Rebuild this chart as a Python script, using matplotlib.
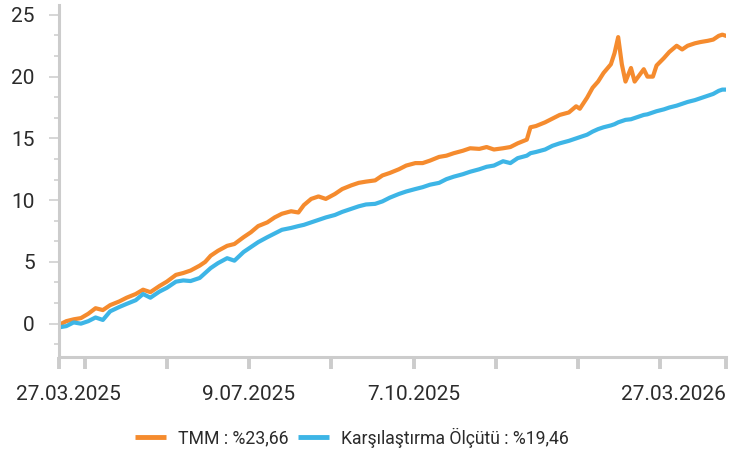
import matplotlib
matplotlib.use("Agg")
import matplotlib.pyplot as plt
import matplotlib.transforms as mtransforms
import pandas as pd

plt.rcParams['font.family'] = ['Roboto', 'DejaVu Sans']

dates = [
    "2025-03-27", "2025-03-31", "2025-04-04", "2025-04-08", "2025-04-12", "2025-04-16",
    "2025-04-20", "2025-04-24", "2025-04-29", "2025-05-03", "2025-05-08", "2025-05-12",
    "2025-05-16", "2025-05-21", "2025-05-25", "2025-05-30", "2025-06-03", "2025-06-07",
    "2025-06-12", "2025-06-15", "2025-06-18", "2025-06-22", "2025-06-27", "2025-07-01",
    "2025-07-06", "2025-07-10", "2025-07-14", "2025-07-19", "2025-07-23", "2025-07-27",
    "2025-08-01", "2025-08-05", "2025-08-08", "2025-08-12", "2025-08-16", "2025-08-20",
    "2025-08-25", "2025-08-29", "2025-09-03", "2025-09-07", "2025-09-11", "2025-09-16",
    "2025-09-20", "2025-09-24", "2025-09-29", "2025-10-03", "2025-10-08", "2025-10-12",
    "2025-10-16", "2025-10-21", "2025-10-25", "2025-10-29", "2025-11-03", "2025-11-07",
    "2025-11-12", "2025-11-16", "2025-11-20", "2025-11-25", "2025-11-29", "2025-12-03",
    "2025-12-08", "2025-12-10", "2025-12-13", "2025-12-18", "2025-12-22", "2025-12-26",
    "2025-12-31", "2026-01-04", "2026-01-06", "2026-01-10", "2026-01-13", "2026-01-16",
    "2026-01-19", "2026-01-23", "2026-01-25", "2026-01-27", "2026-01-29", "2026-01-31",
    "2026-02-03", "2026-02-05", "2026-02-07", "2026-02-10", "2026-02-12", "2026-02-15",
    "2026-02-17", "2026-02-21", "2026-02-24", "2026-02-28", "2026-03-03", "2026-03-06",
    "2026-03-10", "2026-03-13", "2026-03-17", "2026-03-20", "2026-03-23", "2026-03-25",
    "2026-03-27",
]

tmm = [
    -0.1, 0.2, 0.35, 0.45, 0.8, 1.25, 1.1, 1.5, 1.8, 2.1, 2.4, 2.75,
    2.55, 3.05, 3.4, 3.95, 4.1, 4.3, 4.7, 5.0, 5.5, 5.9, 6.3, 6.45,
    7.0, 7.4, 7.9, 8.2, 8.6, 8.9, 9.1, 9.0, 9.6, 10.1, 10.3, 10.1,
    10.5, 10.9, 11.2, 11.4, 11.5, 11.6, 12.0, 12.2, 12.5, 12.8, 13.0, 13.0,
    13.2, 13.5, 13.6, 13.8, 14.0, 14.2, 14.15, 14.3, 14.1, 14.2, 14.3, 14.6,
    14.9, 15.9, 16.0, 16.3, 16.6, 16.9, 17.1, 17.6, 17.4, 18.3, 19.1, 19.6,
    20.3, 21.0, 21.9, 23.2, 21.0, 19.6, 20.7, 19.6, 20.0, 20.6, 20.0, 20.0,
    20.9, 21.5, 22.0, 22.5, 22.2, 22.5, 22.7, 22.8, 22.9, 23.0, 23.3, 23.4,
    23.3,
]

benchmark = [
    -0.3, -0.2, 0.1, 0.0, 0.2, 0.5, 0.3, 1.0, 1.35, 1.6, 1.9, 2.4,
    2.1, 2.6, 2.9, 3.4, 3.5, 3.45, 3.7, 4.1, 4.5, 4.9, 5.3, 5.1,
    5.8, 6.2, 6.6, 7.0, 7.3, 7.6, 7.75, 7.9, 8.0, 8.2, 8.4, 8.6,
    8.8, 9.05, 9.3, 9.5, 9.65, 9.7, 9.9, 10.2, 10.5, 10.7, 10.9, 11.05,
    11.25, 11.4, 11.7, 11.9, 12.1, 12.3, 12.5, 12.7, 12.8, 13.15, 13.0, 13.4,
    13.6, 13.8, 13.9, 14.1, 14.4, 14.6, 14.8, 15.0, 15.1, 15.3, 15.55, 15.75,
    15.9, 16.05, 16.15, 16.3, 16.4, 16.5, 16.55, 16.65, 16.75, 16.9, 16.95, 17.1,
    17.2, 17.35, 17.5, 17.65, 17.8, 17.95, 18.1, 18.25, 18.45, 18.6, 18.85, 18.95,
    18.95,
]

tick_dates = ["2025-03-27", "2025-04-10", "2025-05-25", "2025-07-09", "2025-08-23",
              "2025-10-07", "2025-11-21", "2026-01-05", "2026-02-19", "2026-03-27"]
tick_labels = ["27.03.2025", "", "", "9.07.2025", "", "7.10.2025", "", "", "", "27.03.2026"]

legend_labels = ["TMM : %23,66", "Karşılaştırma Ölçütü : %19,46"]
colors = ["#F58B2E", "#3DB5E6"]

x = pd.to_datetime(dates)

fig = plt.figure(figsize=(7.41, 4.51), dpi=100)
ax = fig.add_axes([59 / 741, 1 - 357 / 451, 667 / 741, 352 / 451])

l1, = ax.plot(x, tmm, color=colors[0], lw=3, solid_joinstyle='round', solid_capstyle='round')
l2, = ax.plot(x, benchmark, color=colors[1], lw=3, solid_joinstyle='round', solid_capstyle='round')

ax.set_xlim(pd.Timestamp("2025-03-27"), pd.Timestamp("2026-03-27"))
ax.set_ylim(-2.7, 25.8)

ax.set_yticks([0, 5, 10, 15, 20, 25])
ax.set_yticks([v for v in [-5 / 3 + i * 5 / 3 for i in range(17)] if v % 5 > 0.01 and v < 25.5], minor=True)
ax.tick_params(axis='y', which='major', length=7.5, width=1.1, color='#cccccc',
               labelsize=15, labelcolor='#2b2b2b', pad=10)
ax.tick_params(axis='y', which='minor', length=3.8, width=1.1, color='#cccccc')

ax.set_xticks(pd.to_datetime(tick_dates))
ax.set_xticklabels(tick_labels)
ax.tick_params(axis='x', length=8.5, width=2.8, color='#cccccc',
               labelsize=15, labelcolor='#2b2b2b', pad=11.5)

labels = ax.get_xticklabels()
labels[0].set_transform(labels[0].get_transform() +
                        mtransforms.ScaledTranslation(9 / 100, 0, fig.dpi_scale_trans))
labels[-1].set_horizontalalignment('right')

for side in ['top', 'right']:
    ax.spines[side].set_visible(False)
for side in ['left', 'bottom']:
    ax.spines[side].set_color('#cccccc')
    ax.spines[side].set_linewidth(2.2)

leg = fig.legend([l1, l2], legend_labels, loc='center', bbox_to_anchor=(0.475, 0.03),
                 ncol=2, frameon=False, fontsize=12.7, handlelength=1.75,
                 handletextpad=0.7, columnspacing=0.5, labelcolor='#2b2b2b')
for h in leg.get_lines():
    h.set_linewidth(3.5)
    h.set_solid_capstyle('butt')

fig.savefig("out.png", dpi=100)
